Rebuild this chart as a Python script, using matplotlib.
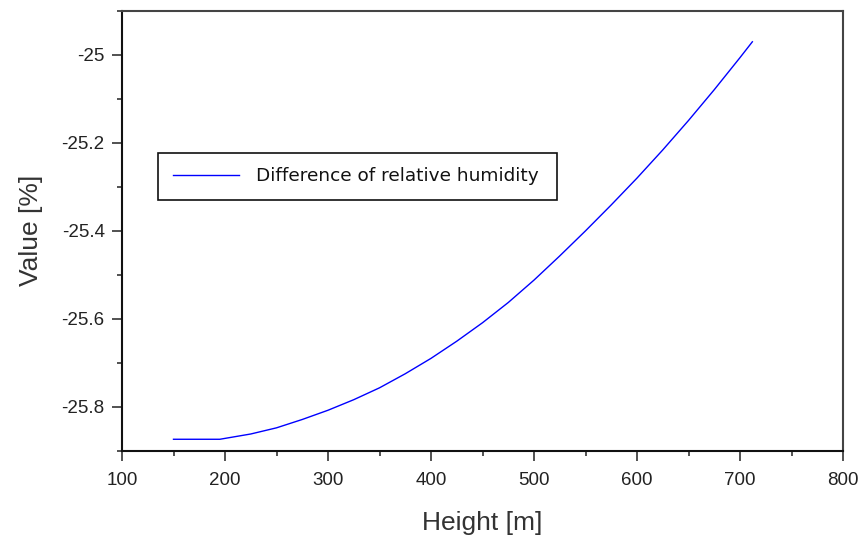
import matplotlib
matplotlib.use("Agg")
import matplotlib.pyplot as plt
from matplotlib.ticker import MultipleLocator

height_m = [150, 175, 195, 225, 250, 275, 300, 325, 350, 375, 400, 425, 450,
            475, 500, 525, 550, 575, 600, 625, 650, 675, 700, 712]
rh_diff = [-25.874, -25.874, -25.874, -25.862, -25.848, -25.829, -25.808,
           -25.784, -25.757, -25.725, -25.690, -25.651, -25.609, -25.563,
           -25.512, -25.457, -25.400, -25.341, -25.280, -25.216, -25.149,
           -25.079, -25.006, -24.970]
series_label = "Difference of relative humidity"
x_ticks = [100, 200, 300, 400, 500, 600, 700, 800]
y_ticks = [-25.8, -25.6, -25.4, -25.2, -25.0]
y_tick_labels = ["-25.8", "-25.6", "-25.4", "-25.2", "-25"]

plt.rcParams['font.family'] = ['Liberation Sans', 'DejaVu Sans']
plt.rcParams['axes.unicode_minus'] = False

fig = plt.figure(figsize=(8.62, 5.38), dpi=100)
ax = fig.add_axes([122/862, 1 - 450.7/538, (843-122)/862, (450.7-11)/538])

ax.plot(height_m, rh_diff, color='#0000ff', linewidth=1.0, label=series_label)

ax.set_xlim(100, 800)
ax.set_ylim(-25.9, -24.9)
ax.set_xticks(x_ticks)
ax.set_yticks(y_ticks)
ax.set_yticklabels(y_tick_labels)
ax.xaxis.set_minor_locator(MultipleLocator(50))
ax.yaxis.set_minor_locator(MultipleLocator(0.1))

ax.tick_params(axis='both', which='major', direction='out', length=7.5, width=1.1,
               labelsize=13.5, colors='#222222')
ax.tick_params(axis='both', which='minor', direction='out', length=3.8, width=1.1,
               colors='#222222')
ax.tick_params(axis='x', which='major', pad=8)
ax.tick_params(axis='y', which='major', pad=5)
ax.tick_params(top=False, right=False, which='both')

for side in ['left', 'bottom']:
    ax.spines[side].set_linewidth(1.5)
    ax.spines[side].set_color('#111111')
for side in ['top', 'right']:
    ax.spines[side].set_linewidth(1.5)
    ax.spines[side].set_color('#444444')

ax.set_xlabel("Height [m]", fontsize=19, color='#333333', labelpad=15.5)
ax.set_ylabel("Value [%]", fontsize=19, color='#333333', labelpad=13)

leg = ax.legend(loc='lower left', bbox_to_anchor=(0.05, 0.57, 0.553, 0.107),
                mode='expand', borderaxespad=0, fancybox=False, framealpha=1,
                edgecolor='#111111', handlelength=3.6, handletextpad=0.9,
                borderpad=0.8,
                prop={'family': 'DejaVu Sans', 'size': 13.3})
leg.get_frame().set_linewidth(1.2)
for t in leg.get_texts():
    t.set_color('#111111')

fig.savefig("out.png", dpi=100)
